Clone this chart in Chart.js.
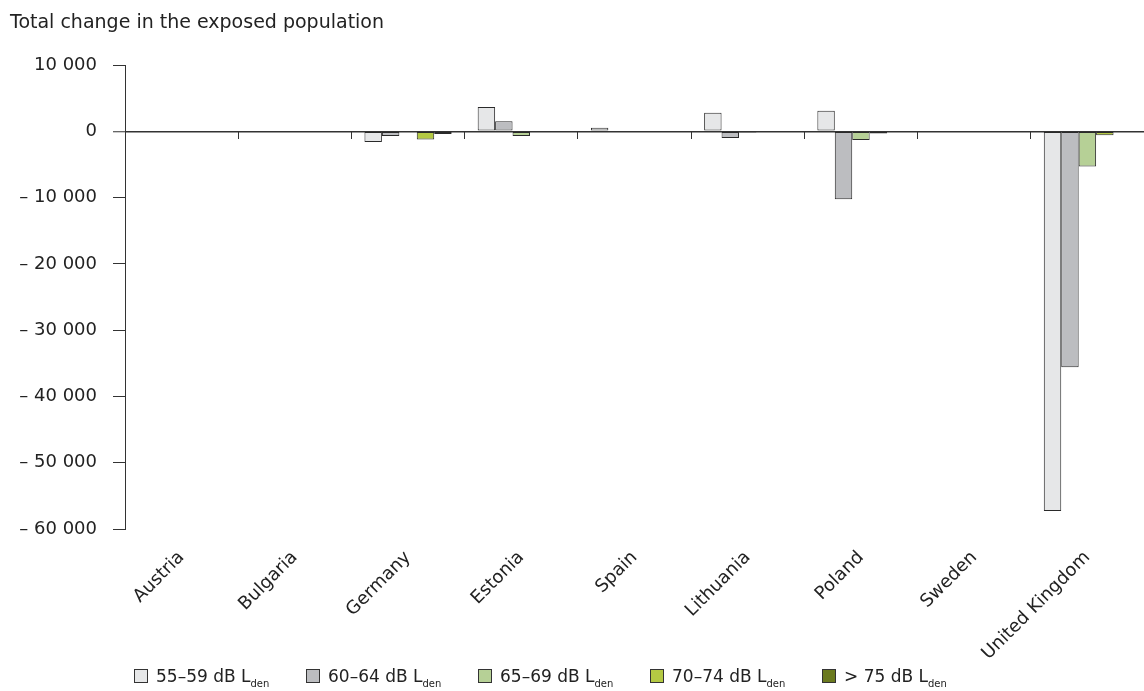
<!DOCTYPE html>
<html>
<head>
<meta charset="utf-8">
<script src="https://cdn.jsdelivr.net/npm/chart.js@4"></script>
<style>
  html, body { margin: 0; padding: 0; background: #fff; }
  #wrap { position: relative; width: 1144px; height: 691px; font-family: "DejaVu Sans", Verdana, sans-serif; color: #222; }
  #title { position: absolute; left: 10px; top: 9px; font-size: 19px; line-height: 24px; white-space: nowrap; }
  .item { position: absolute; top: 666px; font-size: 17px; line-height: 20px; white-space: nowrap; }
  .box { position: absolute; left: 0; top: 3px; width: 14px; height: 14px; border: 1px solid #333; box-sizing: border-box; }
  .txt { position: absolute; left: 22px; top: 0; }
  sub { font-size: 10px; vertical-align: -5px; line-height: 0; }
  canvas { position: absolute; left: 0; top: 0; }
</style>
</head>
<body>
<div id="wrap">
  <canvas id="c" width="1144" height="691"></canvas>
  <div id="title">Total change in the exposed population</div>
  <div id="legend"></div>
</div>
<script>
const categories = ["Austria", "Bulgaria", "Germany", "Estonia", "Spain", "Lithuania", "Poland", "Sweden", "United Kingdom"];
const seriesNames = ["55–59 dB L", "60–64 dB L", "65–69 dB L", "70–74 dB L", "> 75 dB L"];
const band55_59 = [0, 0, -1600, 3650, 550, 2800, 3100, 0, -57300];
const band60_64 = [0, 0, -700, 1500, 0, -1000, -10250, 0, -35600];
const band65_69 = [0, 0, 0, -700, 0, -200, -1300, 0, -5300];
const band70_74 = [0, 0, -1250, 0, 0, -100, -350, 0, -600];
const band75 = [0, 0, -400, 0, 0, 0, -100, 0, -100];
const yTicks = [10000, 0, -10000, -20000, -30000, -40000, -50000, -60000];
const colors = ["#e6e7e8", "#bcbdc0", "#b6d096", "#b4c943", "#6b7a1f"];

const seriesValues = [band55_59, band60_64, band65_69, band70_74, band75];

function fmt(v) {
  const a = Math.abs(v).toString().replace(/\B(?=(\d{3})+(?!\d))/g, " ");
  return v < 0 ? "– " + a : a;
}

const datasets = seriesValues.map((vals, i) => ({
  label: seriesNames[i] + "den",
  data: vals,
  backgroundColor: colors[i],
  borderColor: "#2a2a2a",
  borderWidth: 1,
  borderSkipped: false,
  categoryPercentage: 0.77,
  barPercentage: 1.0
}));

const FONT = { family: "'DejaVu Sans', Verdana, sans-serif", size: 18 };

new Chart(document.getElementById("c"), {
  type: "bar",
  data: { labels: categories, datasets },
  options: {
    responsive: false,
    animation: false,
    layout: { padding: { top: 65, left: 0, right: 0, bottom: 0 } },
    plugins: { legend: { display: false }, tooltip: { enabled: false }, title: { display: false } },
    scales: {
      x: {
        type: "category",
        position: "bottom",
        grid: { display: false, drawTicks: false },
        border: { display: false },
        ticks: { color: "#222", font: FONT, minRotation: 45, maxRotation: 45, autoSkip: false, padding: 18 },
        afterFit: s => { s.height = 691 - 529; }
      },
      x2: {
        type: "category",
        position: { y: 0 },
        offset: true,
        grid: { drawOnChartArea: false, drawTicks: true, tickLength: 8, color: "#333", offset: true },
        border: { display: false },
        ticks: { display: false }
      },
      y: {
        min: -60000,
        max: 10000,
        afterBuildTicks: s => { s.ticks = yTicks.map(v => ({ value: v })); },
        grid: {
          drawOnChartArea: true,
          color: c => (c.tick && c.tick.value === 0) ? "#333" : "rgba(0,0,0,0)",
          lineWidth: c => (c.tick && c.tick.value === 0) ? 1.5 : 1,
          tickColor: "#333",
          tickWidth: 1,
          tickLength: 12
        },
        border: { display: true, color: "#333", width: 1 },
        ticks: { color: "#222", font: FONT, padding: 16, callback: v => fmt(v) },
        afterFit: s => { s.width = 125; }
      }
    }
  }
});

const lg = document.getElementById("legend");
seriesNames.forEach((n, i) => {
  const d = document.createElement("div");
  d.className = "item";
  d.style.left = (134 + i * 172) + "px";
  d.innerHTML = '<span class="box" style="background:' + colors[i] + '"></span><span class="txt">' + n + '<sub>den</sub></span>';
  lg.appendChild(d);
});
</script>
</body>
</html>
